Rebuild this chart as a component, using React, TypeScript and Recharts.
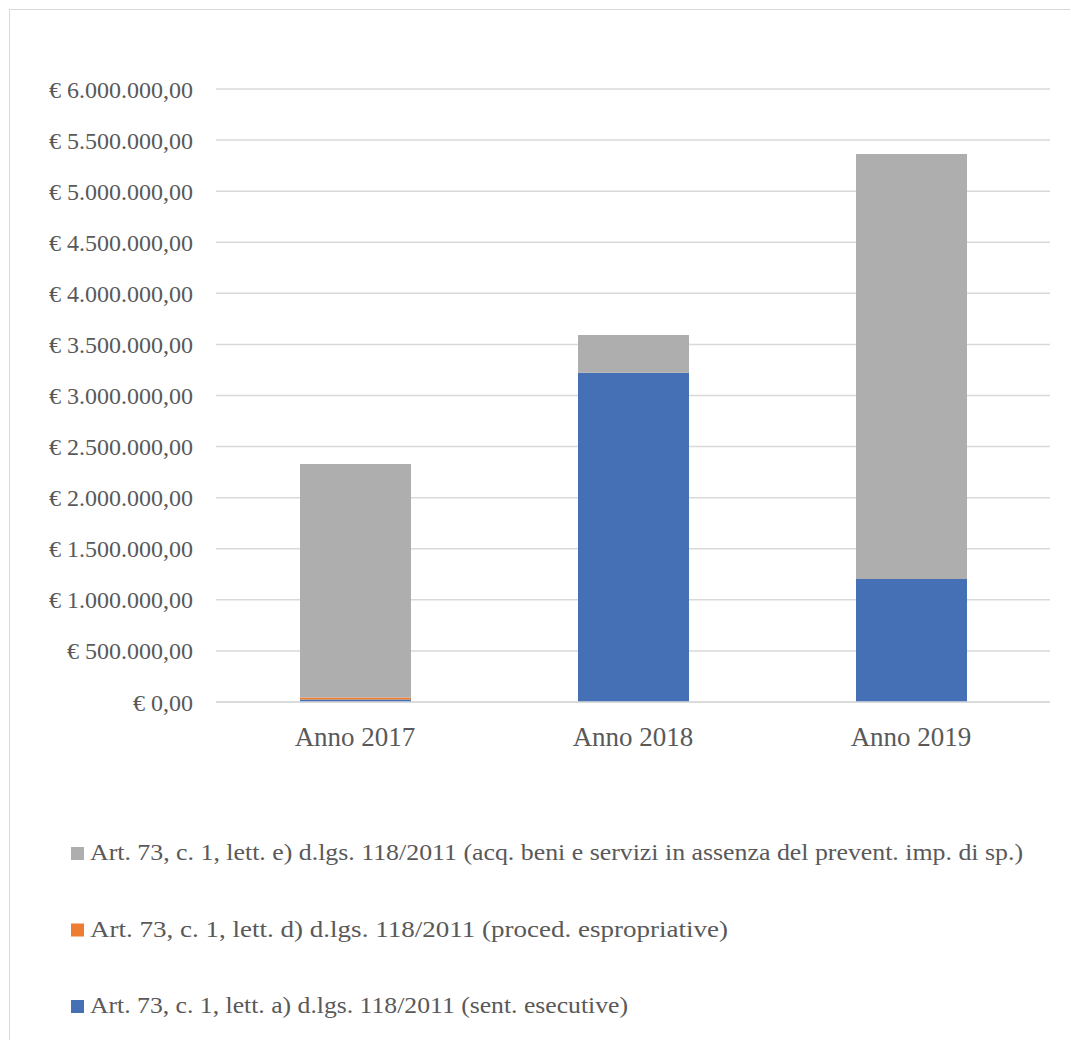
import React from 'react';
import { BarChart, Bar, XAxis, YAxis, CartesianGrid } from 'recharts';

// Categories and series values (euro)
const categories: string[] = ['Anno 2017', 'Anno 2018', 'Anno 2019'];
const sentEsecutive: number[] = [25000, 3223000, 1204000];
const procedEspropriative: number[] = [20000, 0, 0];
const acqBeniServizi: number[] = [2285000, 369000, 4160000];

const yTicks: number[] = [0, 500000, 1000000, 1500000, 2000000, 2500000, 3000000, 3500000, 4000000, 4500000, 5000000, 5500000, 6000000];

// Series definitions, bottom of the stack first
const series = [
  { key: 'a', name: 'Art. 73, c. 1, lett. a) d.lgs. 118/2011 (sent. esecutive)', color: '#4670B6', legendWidth: 538 },
  { key: 'd', name: 'Art. 73, c. 1, lett. d) d.lgs. 118/2011 (proced. espropriative)', color: '#ED7D31', legendWidth: 638 },
  { key: 'e', name: 'Art. 73, c. 1, lett. e) d.lgs. 118/2011 (acq. beni e servizi in assenza del prevent. imp. di sp.)', color: '#AEAEAE', legendWidth: 933 },
];

const data = categories.map((name, i) => ({
  name,
  a: sentEsecutive[i],
  d: procedEspropriative[i],
  e: acqBeniServizi[i],
}));

const FONT = '"Palatino Linotype", "Book Antiqua", Palatino, "Liberation Serif", serif';
const TEXT = '#595959';
const GRID = '#d9d9d9';

// € 1.500.000,00
const formatEuro = (v: number): string =>
  '€ ' + Math.round(v).toString().replace(/\B(?=(\d{3})+(?!\d))/g, '.') + ',00';

const LegendBlock: React.FC = () => {
  const rows = [...series].reverse();
  return (
    <svg width={1060} height={229} style={{ position: 'absolute', left: 0, top: 800 }}>
      {rows.map((s, i) => {
        const baseline = 50 + i * 76.5;
        return (
          <g key={s.key}>
            <rect x={61} y={baseline - 13} width={13} height={13} fill={s.color} />
            <text
              x={80}
              y={baseline}
              fill={TEXT}
              fontSize={23.5}
              fontFamily={FONT}
              textLength={s.legendWidth}
              lengthAdjust="spacingAndGlyphs"
            >
              {s.name}
            </text>
          </g>
        );
      })}
    </svg>
  );
};

const App: React.FC = () => {
  return (
    <div
      style={{
        position: 'absolute',
        left: 9,
        top: 9,
        width: 1060,
        height: 1030,
        borderTop: `1px solid ${GRID}`,
        borderLeft: `1px solid ${GRID}`,
        background: '#fff',
      }}
    >
      <div style={{ position: 'relative', width: 1060, height: 1030 }}>
        <BarChart
          width={1060}
          height={760}
          data={data}
          margin={{ top: 79, right: 20, bottom: 8, left: 0 }}
          barSize={111}
        >
          <CartesianGrid vertical={false} stroke={GRID} strokeWidth={1.5} />
          <XAxis
            dataKey="name"
            height={60}
            axisLine={{ stroke: GRID, strokeWidth: 1.5 }}
            tickLine={false}
            tickSize={0}
            tickMargin={25}
            tick={{ fill: TEXT, fontSize: 27, fontFamily: FONT }}
          />
          <YAxis
            width={206}
            domain={[0, 6000000]}
            ticks={yTicks}
            interval={0}
            axisLine={false}
            tickLine={false}
            tickSize={0}
            tickMargin={23}
            tickFormatter={formatEuro}
            tick={{ fill: TEXT, fontSize: 24, fontFamily: FONT }}
          />
          {series.map((s) => (
            <Bar
              key={s.key}
              dataKey={s.key}
              name={s.name}
              stackId="total"
              fill={s.color}
              isAnimationActive={false}
            />
          ))}
        </BarChart>
        <LegendBlock />
      </div>
    </div>
  );
};

export default App;
